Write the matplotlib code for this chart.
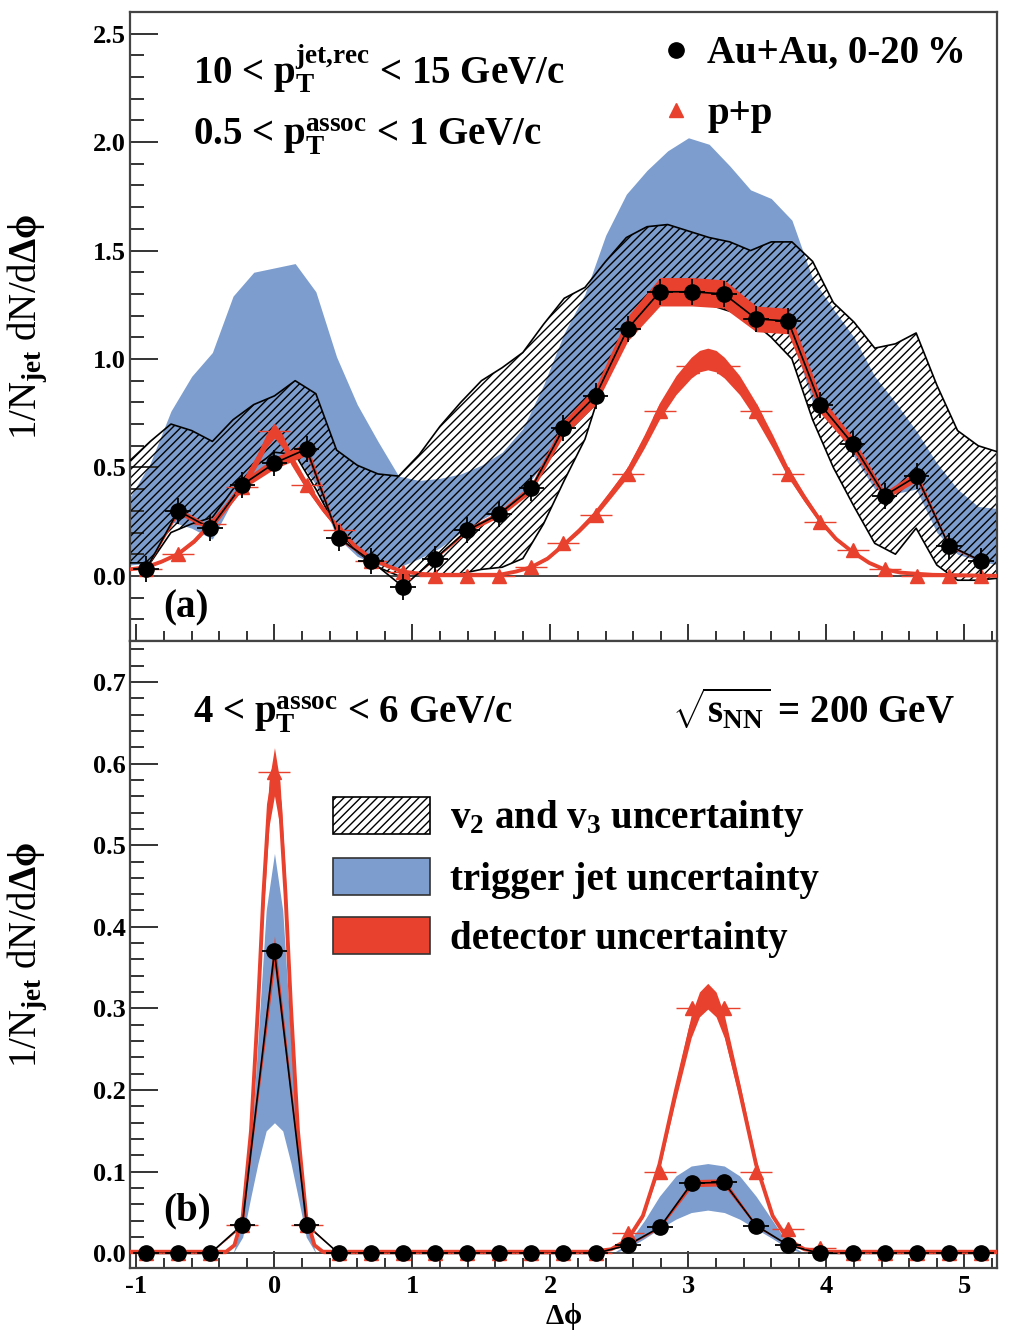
import matplotlib
matplotlib.use("Agg")
import matplotlib.pyplot as plt
import numpy as np
from matplotlib.lines import Line2D
from matplotlib.patches import Patch
from matplotlib.ticker import MultipleLocator, FormatStrFormatter

plt.rcParams["font.family"] = ["Liberation Serif", "DejaVu Serif"]
plt.rcParams["font.weight"] = "bold"
plt.rcParams["mathtext.fontset"] = "custom"
plt.rcParams["mathtext.rm"] = "Liberation Serif:bold"
plt.rcParams["mathtext.it"] = "Liberation Serif:bold"
plt.rcParams["mathtext.bf"] = "Liberation Serif:bold"
plt.rcParams["axes.unicode_minus"] = False
plt.rcParams["hatch.linewidth"] = 1.0

# ---- data -------------------------------------------------------------
# bin centres in delta phi
dphi = [-0.931, -0.698, -0.465, -0.233, 0.0, 0.233, 0.465, 0.698, 0.931,
        1.164, 1.396, 1.629, 1.862, 2.094, 2.327, 2.560, 2.793, 3.025,
        3.258, 3.491, 3.723, 3.956, 4.189, 4.422, 4.654, 4.887, 5.120]
bin_half = 0.116

# (a) 0.5 < pT assoc < 1 GeV/c
auau_a = [0.03, 0.30, 0.22, 0.42, 0.52, 0.585, 0.175, 0.07, -0.05, 0.08,
          0.21, 0.285, 0.405, 0.68, 0.83, 1.14, 1.31, 1.31, 1.30, 1.185,
          1.175, 0.79, 0.61, 0.37, 0.46, 0.14, 0.07]
auau_a_err = 0.06
pp_a = [0.03, 0.10, 0.24, 0.41, 0.67, 0.42, 0.21, 0.07, 0.02, 0.0, 0.0,
        0.0, 0.04, 0.15, 0.28, 0.47, 0.76, 0.97, 0.97, 0.76, 0.47, 0.25,
        0.12, 0.03, 0.0, 0.0, 0.0]

# p+p fit curve (a)
ppfit_a_x = [-1.05, -0.93, -0.82, -0.70, -0.58, -0.47, -0.35, -0.23, -0.12,
             -0.06, 0.00, 0.06, 0.12, 0.23, 0.35, 0.47, 0.58, 0.70, 0.82,
             0.93, 1.05, 1.16, 1.63, 1.75, 1.86, 1.98, 2.09, 2.21, 2.33,
             2.44, 2.56, 2.68, 2.79, 2.91, 3.02, 3.08, 3.14, 3.20, 3.26,
             3.37, 3.49, 3.61, 3.72, 3.84, 3.96, 4.07, 4.19, 4.31, 4.42,
             4.54, 4.65, 4.77, 5.25]
ppfit_a_y = [0.03, 0.04, 0.065, 0.10, 0.16, 0.235, 0.32, 0.42, 0.54, 0.62,
             0.67, 0.62, 0.54, 0.42, 0.31, 0.215, 0.14, 0.08, 0.045, 0.02,
             0.01, 0.005, 0.005, 0.02, 0.04, 0.08, 0.14, 0.21, 0.29, 0.38,
             0.48, 0.62, 0.76, 0.88, 0.96, 0.99, 1.0, 0.99, 0.96, 0.88,
             0.76, 0.62, 0.48, 0.36, 0.25, 0.17, 0.11, 0.06, 0.03, 0.015,
             0.01, 0.005, 0.0]

# uncertainty bands (a)
band_a_x = [-1.05, -0.90, -0.75, -0.60, -0.45, -0.30, -0.15, 0.00, 0.15,
            0.30, 0.45, 0.60, 0.75, 0.90, 1.05, 1.20, 1.35, 1.50, 1.65,
            1.80, 1.95, 2.10, 2.25, 2.40, 2.55, 2.70, 2.85, 3.00, 3.15,
            3.30, 3.45, 3.60, 3.75, 3.90, 4.05, 4.20, 4.35, 4.50, 4.65,
            4.80, 4.95, 5.10, 5.25]
trig_a_hi = [0.36, 0.52, 0.76, 0.92, 1.03, 1.29, 1.40, 1.42, 1.44, 1.31,
             1.01, 0.79, 0.62, 0.46, 0.44, 0.45, 0.47, 0.51, 0.57, 0.68,
             0.88, 1.12, 1.30, 1.57, 1.76, 1.87, 1.96, 2.02, 1.99, 1.89,
             1.78, 1.74, 1.64, 1.37, 1.23, 1.10, 0.92, 0.80, 0.67, 0.52,
             0.40, 0.32, 0.31]
trig_a_lo = [0.05, 0.06, 0.25, 0.22, 0.17, 0.35, 0.47, 0.53, 0.56, 0.42,
             0.18, 0.09, 0.05, 0.04, 0.08, 0.13, 0.20, 0.26, 0.31, 0.39,
             0.52, 0.66, 0.77, 0.96, 1.13, 1.28, 1.33, 1.33, 1.32, 1.28,
             1.20, 1.18, 1.10, 0.80, 0.70, 0.55, 0.40, 0.38, 0.40, 0.20,
             0.10, 0.07, 0.05]
vn_a_hi = [0.53, 0.62, 0.70, 0.67, 0.62, 0.72, 0.79, 0.83, 0.90, 0.84,
           0.58, 0.51, 0.47, 0.46, 0.56, 0.69, 0.80, 0.90, 0.96, 1.03,
           1.16, 1.28, 1.33, 1.45, 1.56, 1.61, 1.62, 1.59, 1.56, 1.54,
           1.50, 1.54, 1.54, 1.45, 1.26, 1.17, 1.05, 1.07, 1.12, 0.88,
           0.67, 0.60, 0.57]
vn_a_lo = [0.06, 0.06, 0.20, 0.24, 0.27, 0.40, 0.50, 0.57, 0.56, 0.40,
           0.22, 0.11, 0.04, 0.0, 0.0, 0.0, 0.01, 0.03, 0.04, 0.08, 0.24,
           0.44, 0.63, 0.93, 1.15, 1.25, 1.27, 1.27, 1.25, 1.22, 1.18,
           1.10, 1.00, 0.72, 0.50, 0.32, 0.15, 0.10, 0.22, 0.05, -0.02,
           -0.02, -0.01]

# (b) 4 < pT assoc < 6 GeV/c
auau_b = [0.0, 0.0, 0.0, 0.035, 0.37, 0.035, 0.0, 0.0, 0.0, 0.0, 0.0, 0.0,
          0.0, 0.0, 0.0, 0.01, 0.032, 0.086, 0.087, 0.034, 0.01, 0.0, 0.0,
          0.0, 0.0, 0.0, 0.0]
auau_b_err = 0.006
pp_b = [0.0, 0.0, 0.0, 0.035, 0.59, 0.035, 0.0, 0.0, 0.0, 0.0, 0.0, 0.0,
        0.0, 0.0, 0.0, 0.025, 0.10, 0.30, 0.30, 0.10, 0.03, 0.007, 0.0, 0.0,
        0.0, 0.0, 0.0]
ppfit_b_x = [-1.05, -0.35, -0.29, -0.23, -0.17, -0.12, -0.08, -0.04, 0.00,
             0.04, 0.08, 0.12, 0.17, 0.23, 0.29, 0.35, 2.30, 2.44, 2.56,
             2.67, 2.79, 2.91, 3.02, 3.08, 3.14, 3.20, 3.26, 3.37, 3.49,
             3.61, 3.72, 3.84, 3.98, 5.25]
ppfit_b_y = [0.002, 0.002, 0.01, 0.045, 0.15, 0.30, 0.44, 0.55, 0.59, 0.55,
             0.44, 0.30, 0.15, 0.045, 0.01, 0.002, 0.002, 0.005, 0.017,
             0.046, 0.109, 0.20, 0.278, 0.305, 0.315, 0.305, 0.278, 0.20,
             0.109, 0.046, 0.017, 0.005, 0.002, 0.002]
trig_b_near_x = [-0.30, -0.23, -0.17, -0.12, -0.06, 0.00, 0.06, 0.12, 0.17,
                 0.23, 0.30]
trig_b_near_hi = [0.0, 0.04, 0.13, 0.26, 0.42, 0.49, 0.42, 0.26, 0.13, 0.04,
                  0.0]
trig_b_near_lo = [0.0, 0.02, 0.07, 0.11, 0.15, 0.16, 0.15, 0.11, 0.07, 0.02,
                  0.0]
trig_b_away_x = [2.45, 2.56, 2.68, 2.79, 2.91, 3.02, 3.14, 3.26, 3.37, 3.49,
                 3.61, 3.72, 3.84]
trig_b_away_hi = [0.0, 0.012, 0.04, 0.07, 0.095, 0.107, 0.11, 0.107, 0.095,
                  0.07, 0.04, 0.012, 0.0]
trig_b_away_lo = [0.0, 0.006, 0.018, 0.03, 0.042, 0.05, 0.053, 0.05, 0.042,
                  0.03, 0.018, 0.006, 0.0]

det_rel = 0.05  # relative detector uncertainty

BLUE = "#7c9dcd"
RED = "#e8412d"
XLIM = (-np.pi / 3, 5 * np.pi / 3)
FS = 28
HATCH = "////"


def draw_pp(ax, fit_x, fit_y, pts):
    fx = np.array(fit_x)
    fy = np.array(fit_y)
    ax.fill_between(fx, fy * (1 - det_rel), fy * (1 + det_rel), color=RED,
                    lw=0, zorder=5)
    ax.plot(fx, fy, color=RED, lw=2.8, zorder=5, solid_joinstyle="round")
    ax.errorbar(dphi, pts, xerr=bin_half, fmt="^", color=RED, ms=10,
                elinewidth=1.0, capsize=0, zorder=7)


def draw_auau(ax, vals, err):
    v = np.array(vals)
    ax.fill_between(dphi, v * (1 - det_rel), v * (1 + det_rel), color=RED,
                    lw=0, zorder=6)
    ax.plot(dphi, v, color="black", lw=1.2, zorder=6)
    ax.errorbar(dphi, v, yerr=err, xerr=bin_half * 0.8, fmt="o",
                color="black", ms=11, elinewidth=1.3, capsize=0, zorder=8)


def style_axis(ax, ylim, ymaj, ymin):
    ax.set_xlim(*XLIM)
    ax.set_ylim(*ylim)
    ax.xaxis.set_major_locator(MultipleLocator(1))
    ax.xaxis.set_minor_locator(MultipleLocator(0.2))
    ax.yaxis.set_major_locator(MultipleLocator(ymaj))
    ax.yaxis.set_minor_locator(MultipleLocator(ymin))
    ax.yaxis.set_major_formatter(FormatStrFormatter("%.1f"))
    ax.tick_params(axis="both", which="both", direction="in", top=False,
                   right=False, labelsize=19, width=1.4, color="#333333")
    ax.tick_params(axis="y", which="major", length=20, pad=3)
    ax.tick_params(axis="y", which="minor", length=10)
    ax.tick_params(axis="x", which="major", length=12, pad=5)
    ax.tick_params(axis="x", which="minor", length=7)
    for s in ax.spines.values():
        s.set_linewidth(1.6)
        s.set_color("#444444")
    ax.axhline(0, color="#444444", lw=1.4, zorder=3)
    ax.set_ylabel(r"1/N$_{\mathrm{jet}}$ dN/d$\Delta\phi$", fontsize=FS)
    ax.yaxis.set_label_coords(-0.092, 0.5)


fig = plt.figure(figsize=(10.09, 13.32), dpi=100)
ax_a = fig.add_axes([0.1288, 0.5188, 0.8593, 0.4722])
ax_b = fig.add_axes([0.1288, 0.0480, 0.8593, 0.4707])

# ---- panel (a) --------------------------------------------------------
ax_a.fill_between(band_a_x, trig_a_lo, trig_a_hi, color=BLUE, lw=0, zorder=1)
ax_a.fill_between(band_a_x, vn_a_lo, vn_a_hi, facecolor="none",
                  edgecolor="black", hatch=HATCH, lw=0, zorder=2)
ax_a.plot(band_a_x, vn_a_hi, color="black", lw=1.2, zorder=3)
ax_a.plot(band_a_x, vn_a_lo, color="black", lw=1.2, zorder=3)
draw_pp(ax_a, ppfit_a_x, ppfit_a_y, pp_a)
draw_auau(ax_a, auau_a, auau_a_err)
style_axis(ax_a, (-0.3, 2.6), 0.5, 0.1)
ax_a.tick_params(axis="x", labelbottom=False)

ax_a.text(0.0727, 0.887,
          r"10 < $\mathrm{p}_{\mathrm{T}}^{\mathrm{jet{,}rec}}$ < 15 GeV/c",
          transform=ax_a.transAxes, fontsize=FS, va="baseline")
ax_a.text(0.0727, 0.787,
          r"0.5 < $\mathrm{p}_{\mathrm{T}}^{\mathrm{assoc}}$ < 1 GeV/c",
          transform=ax_a.transAxes, fontsize=FS, va="baseline")
ax_a.text(0.038, 0.037, "(a)", transform=ax_a.transAxes, fontsize=FS,
          va="baseline")

ax_a.legend(
    [Line2D([], [], marker="o", color="black", ls="none", ms=11),
     Line2D([], [], marker="^", color=RED, ls="none", ms=10)],
    ["Au+Au, 0-20\u2009%", "p+p"],
    loc="upper left", bbox_to_anchor=(0.612, 0.963), frameon=False,
    fontsize=FS, handlelength=0.8, handletextpad=0.4, labelspacing=0.6,
    borderpad=0, borderaxespad=0)

# ---- panel (b) --------------------------------------------------------
ax_b.fill_between(trig_b_near_x, trig_b_near_lo, trig_b_near_hi, color=BLUE,
                  lw=0, zorder=1)
ax_b.fill_between(trig_b_away_x, trig_b_away_lo, trig_b_away_hi, color=BLUE,
                  lw=0, zorder=1)
draw_pp(ax_b, ppfit_b_x, ppfit_b_y, pp_b)
draw_auau(ax_b, auau_b, auau_b_err)
style_axis(ax_b, (-0.018, 0.75), 0.1, 0.02)
ax_b.set_xlabel(r"$\Delta\phi$", fontsize=21)
ax_b.xaxis.set_label_coords(0.5, -0.053)

ax_b.text(0.0727, 0.869,
          r"4 < $\mathrm{p}_{\mathrm{T}}^{\mathrm{assoc}}$ < 6 GeV/c",
          transform=ax_b.transAxes, fontsize=FS, va="baseline")
ax_b.text(0.951, 0.869, r"$\sqrt{\mathrm{s}_{\mathrm{NN}}}$ = 200 GeV",
          transform=ax_b.transAxes, fontsize=FS, va="baseline", ha="right")
ax_b.text(0.038, 0.0764, "(b)", transform=ax_b.transAxes, fontsize=FS,
          va="baseline")

ax_b.legend(
    [Patch(facecolor="white", edgecolor="black", hatch=HATCH, lw=1.2),
     Patch(facecolor=BLUE, edgecolor="#333333", lw=1.2),
     Patch(facecolor=RED, edgecolor="#333333", lw=1.2)],
    [r"v$_{2}$ and v$_{3}$ uncertainty", "trigger jet uncertainty",
     "detector uncertainty"],
    loc="upper left", bbox_to_anchor=(0.234, 0.752), frameon=False,
    fontsize=FS, handlelength=2.5, handleheight=1.1, handletextpad=0.5,
    labelspacing=0.47, borderpad=0, borderaxespad=0)

fig.savefig("out.png", dpi=100)
